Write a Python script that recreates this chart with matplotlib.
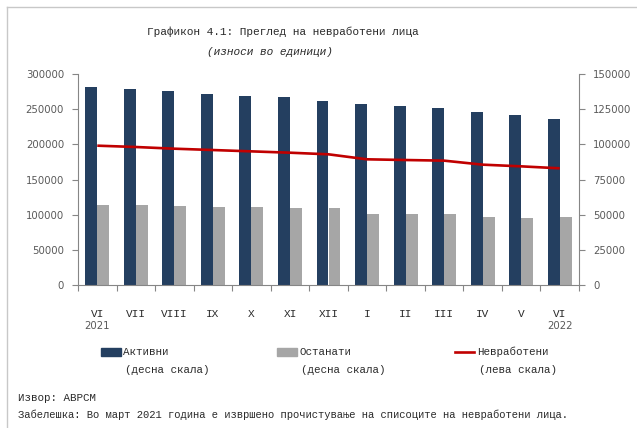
import matplotlib
matplotlib.use('Agg')
import matplotlib.pyplot as plt
import matplotlib.transforms as mtrans
import numpy as np
from matplotlib.lines import Line2D
from matplotlib.patches import Rectangle
from matplotlib.ticker import FuncFormatter, FixedLocator

# ---- data ----
months = ['VI', 'VII', 'VIII', 'IX', 'X', 'XI', 'XII', 'I', 'II', 'III', 'IV', 'V', 'VI']
years = {0: '2021', 12: '2022'}
active = [140800, 139300, 137900, 135800, 134400, 133600, 130800,
          128700, 127200, 125800, 123000, 120800, 118000]
other = [56900, 56900, 56200, 55400, 55400, 54700, 54700,
         50500, 50500, 50500, 48300, 47600, 48300]
unemployed = [198100, 196200, 193800, 191900, 190000, 188100, 185800,
              178700, 177700, 176800, 171100, 168700, 165900]

title1 = 'Графикон 4.1: Преглед на невработени лица'
title2 = '(износи во единици)'
legend_labels = [('Активни', '(десна скала)'), ('Останати', '(десна скала)'),
                 ('Невработени', '(лева скала)')]
source = 'Извор: АВРСМ'
note = 'Забелешка: Во март 2021 година е извршено прочистување на списоците на невработени лица.'

# ---- style ----
navy = '#243F60'
grey = '#A6A6A6'
red = '#C00000'
axis_col = '#868686'
txt_col = '#595959'
dark_txt = '#2a2a2a'
mono = 'Liberation Mono'

W, H = 637, 428
fig = plt.figure(figsize=(W / 100, H / 100), dpi=100)
fig.patch.set_facecolor('white')

def fx(px):
    return px / W

def fy(py):
    return 1 - py / H

ax = fig.add_axes([fx(78), fy(285), fx(579) - fx(78), fy(74) - fy(285)])
x = np.arange(len(months))
bw = 0.31
ax.bar(x - bw / 2, active, width=bw, color=navy, zorder=2)
ax.bar(x + bw / 2, other, width=bw, color=grey, zorder=2)
ax.set_ylim(0, 150000)
ax.set_xlim(-0.5, len(months) - 0.5)
ax.set_yticks(np.arange(0, 150001, 25000))

ax2 = ax.twinx()
ax2.plot(x, unemployed, color=red, lw=1.9, zorder=3, solid_capstyle='butt')
ax2.set_ylim(0, 300000)
ax2.set_yticks(np.arange(0, 300001, 50000))

# bars -> right scale, line -> left scale
ax.yaxis.tick_right()
ax.yaxis.set_label_position('right')
ax2.yaxis.tick_left()
ax2.yaxis.set_label_position('left')

fmt = FuncFormatter(lambda v, p: f'{int(v)}')
for a in (ax, ax2):
    a.yaxis.set_major_formatter(fmt)
    for s in a.spines.values():
        s.set_visible(False)
    a.tick_params(axis='y', colors=axis_col, labelcolor=txt_col, labelsize=7.3,
                  length=4, width=0.8, direction='out', pad=6)
    a.patch.set_visible(False)

ax.spines['bottom'].set_visible(True)
ax.spines['bottom'].set_color(axis_col)
ax.spines['right'].set_visible(True)
ax.spines['right'].set_color(axis_col)
ax2.spines['left'].set_visible(True)
ax2.spines['left'].set_color(axis_col)

# x ticks: marks at category boundaries, labels at centres
ax.xaxis.set_major_locator(FixedLocator(np.arange(-0.5, len(months), 1)))
ax.xaxis.set_major_formatter(FuncFormatter(lambda v, p: ''))
ax.xaxis.set_minor_locator(FixedLocator(x))
ax.set_xticklabels(months, minor=True)
ax.tick_params(axis='x', which='major', colors=axis_col, length=4, width=0.8,
               direction='out')
ax.tick_params(axis='x', which='minor', length=0, pad=17, labelcolor=dark_txt)
for lbl in ax.get_xticklabels(minor=True):
    lbl.set_fontfamily(mono)
    lbl.set_fontsize(8)

tr = mtrans.blended_transform_factory(ax.transData, fig.transFigure)
for i, yr in years.items():
    ax.text(i, fy(326), yr, transform=tr, ha='center', va='center',
            fontsize=7.3, color=txt_col)

# titles
fig.text(fx(283), fy(32), title1, ha='center', va='center', fontfamily=mono,
         fontsize=8, color=dark_txt)
fig.text(fx(270), fy(52), title2, ha='center', va='center', fontfamily=mono,
         fontsize=8, style='italic', color=dark_txt)

# legend (manual)
leg_x = [101, 277, 455]
for k, (l1, l2) in enumerate(legend_labels):
    x0 = leg_x[k]
    if k < 2:
        fig.add_artist(Rectangle((fx(x0), fy(356)), fx(20), fy(348) - fy(356),
                                 transform=fig.transFigure,
                                 color=[navy, grey][k]))
    else:
        fig.add_artist(Line2D([fx(x0), fx(x0 + 19)], [fy(352), fy(352)],
                              transform=fig.transFigure, color=red, lw=1.9))
    fig.text(fx(x0 + 22), fy(352), l1, ha='left', va='center', fontfamily=mono,
             fontsize=7.8, color=dark_txt)
    fig.text(fx(x0 + 24), fy(370), l2, ha='left', va='center', fontfamily=mono,
             fontsize=7.8, color=dark_txt)

fig.text(fx(18), fy(398), source, ha='left', va='center', fontfamily=mono,
         fontsize=7.8, color=dark_txt)
fig.text(fx(18), fy(415), note, ha='left', va='center', fontfamily=mono,
         fontsize=7.6, color=dark_txt)

# outer border
bc = '#C8C8C8'
fig.add_artist(Line2D([fx(7), 1], [fy(7), fy(7)], transform=fig.transFigure,
                      color=bc, lw=1))
fig.add_artist(Line2D([fx(7), fx(7)], [fy(7), 0], transform=fig.transFigure,
                      color=bc, lw=1))

fig.savefig('out.png', dpi=100)
